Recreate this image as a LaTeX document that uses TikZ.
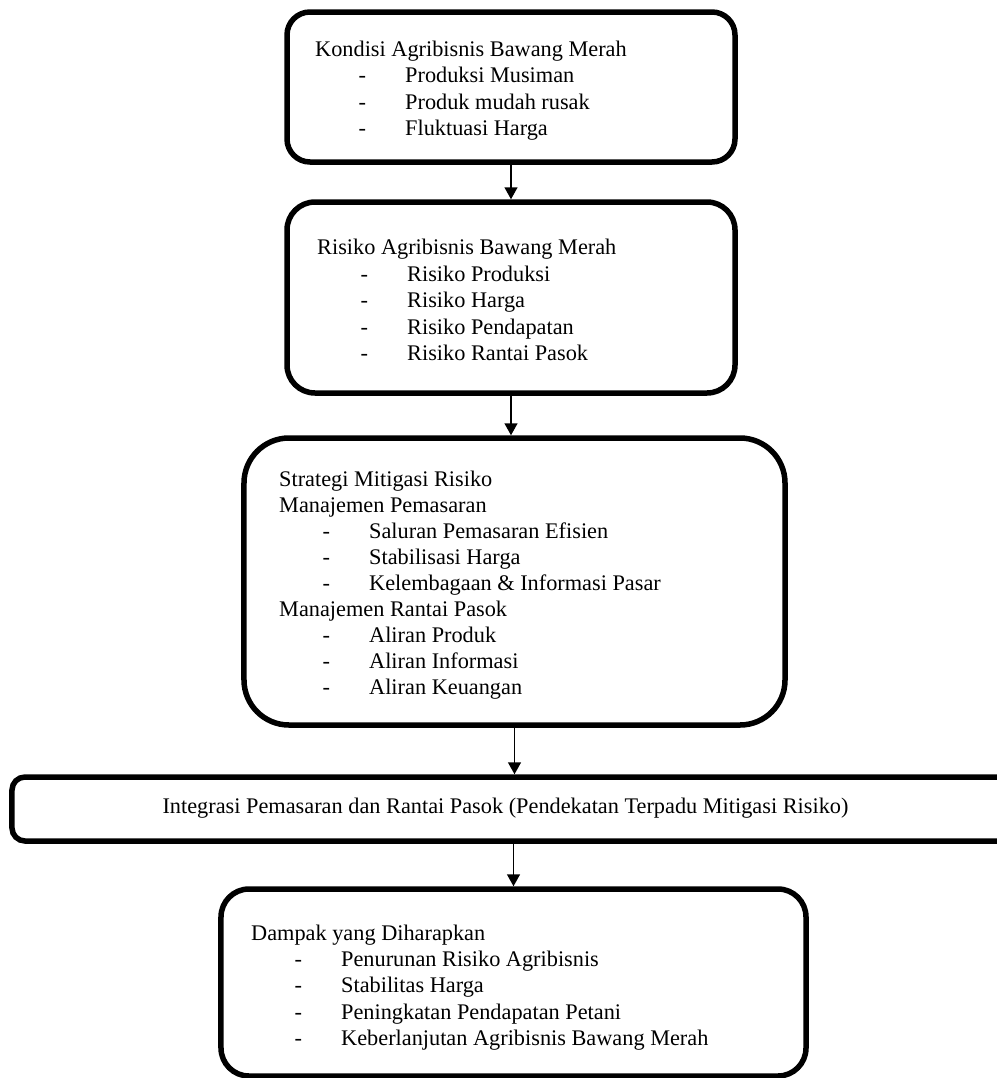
\documentclass[tikz,border=0pt]{standalone}
\usepackage{fontspec}
\setmainfont{Liberation Serif}
\usetikzlibrary{arrows.meta}
\newcommand\dashitem[1]{\makebox[46.7bp][l]{-}#1}
\begin{document}
\begin{tikzpicture}[x=1bp,y=-1bp,
  box/.style={draw=black, line width=5.5bp, rectangle, inner sep=0pt},
  txt/.style={anchor=base west, inner sep=0pt, font=\fontsize{22.3bp}{26.6bp}\selectfont},
  ctxt/.style={anchor=base, inner sep=0pt, font=\fontsize{22.3bp}{26.6bp}\selectfont},
  arr/.style={line width=1.5bp, -{Triangle[length=12bp,width=13bp]}}]
\useasboundingbox[fill=white] (0,0) rectangle (997,1078);

% boxes
\node[box, minimum width=448bp, minimum height=150bp, rounded corners=23bp] (b1) at (511,87) {};
\node[box, minimum width=448bp, minimum height=191bp, rounded corners=28bp] (b2) at (511,297.5) {};
\node[box, minimum width=541bp, minimum height=287bp, rounded corners=45bp] (b3) at (514.5,581.5) {};
\node[box, minimum width=1000bp, minimum height=64bp, rounded corners=13bp] (b4) at (512,809) {};
\node[box, minimum width=585bp, minimum height=187bp, rounded corners=28bp] (b5) at (513.5,982.5) {};

% box 1 text
\node[txt] (t1a) at (315,56) {Kondisi Agribisnis Bawang Merah};
\node[txt] (t1b) at (358.3,82.6) {\dashitem{Produksi Musiman}};
\node[txt] (t1c) at (358.3,109.2) {\dashitem{Produk mudah rusak}};
\node[txt] (t1d) at (358.3,135.8) {\dashitem{Fluktuasi Harga}};

% box 2 text
\node[txt] (t2a) at (317,254.5) {Risiko Agribisnis Bawang Merah};
\node[txt] (t2b) at (360.3,281.1) {\dashitem{Risiko Produksi}};
\node[txt] (t2c) at (360.3,307.7) {\dashitem{Risiko Harga}};
\node[txt] (t2d) at (360.3,334.3) {\dashitem{Risiko Pendapatan}};
\node[txt] (t2e) at (360.3,360.9) {\dashitem{Risiko Rantai Pasok}};

% box 3 text
\node[txt] (t3a) at (279,486) {Strategi Mitigasi Risiko};
\node[txt] (t3b) at (279,512) {Manajemen Pemasaran};
\node[txt] (t3c) at (322.3,538) {\dashitem{Saluran Pemasaran Efisien}};
\node[txt] (t3d) at (322.3,564) {\dashitem{Stabilisasi Harga}};
\node[txt] (t3e) at (322.3,590) {\dashitem{Kelembagaan \& Informasi Pasar}};
\node[txt] (t3f) at (279,616) {Manajemen Rantai Pasok};
\node[txt] (t3g) at (322.3,642) {\dashitem{Aliran Produk}};
\node[txt] (t3h) at (322.3,668) {\dashitem{Aliran Informasi}};
\node[txt] (t3i) at (322.3,694) {\dashitem{Aliran Keuangan}};

% box 4 text
\node[ctxt] (t4) at (505.5,813) {Integrasi Pemasaran dan Rantai Pasok (Pendekatan Terpadu Mitigasi Risiko)};

% box 5 text
\node[txt] (t5a) at (251,940) {Dampak yang Diharapkan};
\node[txt] (t5b) at (294.3,966.4) {\dashitem{Penurunan Risiko Agribisnis}};
\node[txt] (t5c) at (294.3,992.8) {\dashitem{Stabilitas Harga}};
\node[txt] (t5d) at (294.3,1019.2) {\dashitem{Peningkatan Pendapatan Petani}};
\node[txt] (t5e) at (294.3,1045.6) {\dashitem{Keberlanjutan Agribisnis Bawang Merah}};

% arrows
\draw[arr] (b1.south) -- (b2.north);
\draw[arr] (b2.south) -- (b2.south |- b3.north);
\draw[arr] (b3.south) -- (b3.south |- b4.north);
\draw[arr] (b5.north |- b4.south) -- (b5.north);
\end{tikzpicture}
\end{document}
